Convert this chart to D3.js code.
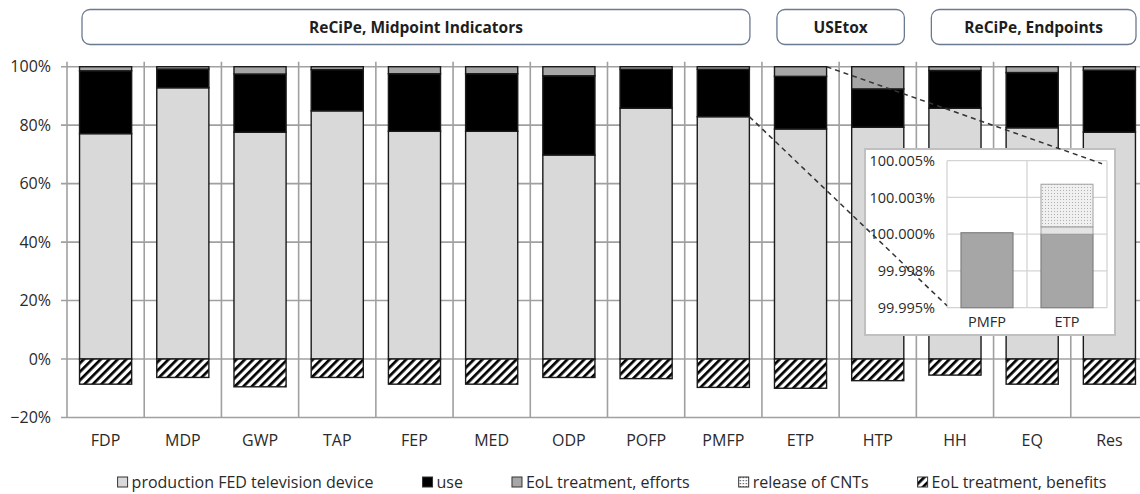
<!DOCTYPE html>
<html>
<head>
<meta charset="utf-8">
<script src="https://cdn.jsdelivr.net/npm/d3@7"></script>
<style>
  html, body { margin: 0; padding: 0; background: #fff; }
  svg { display: block; font-family: "Open Sans", "Noto Sans", sans-serif; }
</style>
</head>
<body>
<svg id="chart" width="1140" height="494"></svg>
<script>
// Impact categories and contributions (% of total impact)
const categories = ["FDP","MDP","GWP","TAP","FEP","MED","ODP","POFP","PMFP","ETP","HTP","HH","EQ","Res"];
const production = [77.1, 92.8, 77.6, 84.9, 77.9, 77.9, 69.8, 85.8, 82.9, 78.7, 79.3, 85.8, 79.1, 77.6];
const use        = [21.5,  6.4, 19.9, 14.1, 19.7, 19.7, 27.1, 13.3, 16.2, 18.0, 13.1, 12.9, 18.9, 21.2];
const efforts    = [ 1.4,  0.8,  2.5,  1.0,  2.4,  2.4,  3.1,  0.9,  0.9,  3.3,  7.6,  1.3,  2.0,  1.2];
const cntRelease = [ 0,    0,    0,    0,    0,    0,    0,    0,    0.0001, 0.0034, 0, 0, 0, 0];
const benefits   = [-8.6, -6.3, -9.5, -6.3, -8.6, -8.6, -6.3, -6.7, -9.7, -10.0, -7.4, -5.5, -8.6, -8.6];

const yTicks = [-20, 0, 20, 40, 60, 80, 100];

const groups = [
  { label: "ReCiPe, Midpoint Indicators", first: "FDP", last: "PMFP" },
  { label: "USEtox", first: "ETP", last: "HTP" },
  { label: "ReCiPe, Endpoints", first: "HH", last: "Res" }
];

const legendItems = [
  { key: "production", label: "production FED television device" },
  { key: "use", label: "use" },
  { key: "efforts", label: "EoL treatment, efforts" },
  { key: "cnt", label: "release of CNTs" },
  { key: "benefits", label: "EoL treatment, benefits" }
];

// Magnified view of the top of the PMFP and ETP bars
const insetCats = ["PMFP", "ETP"];
const insetEffortsTop = [100.0001, 100.0000];
const insetPale = [0, 0.0005];
const insetCnt = [0, 0.0029];
const insetTicks = [99.995, 99.9975, 100.0, 100.0025, 100.005];
const insetTickLabels = ["99.995%", "99.998%", "100.000%", "100.003%", "100.005%"];

const svg = d3.select("#chart");
const fills = { production: "#d9d9d9", use: "#000000", efforts: "#a6a6a6" };

// Patterns
const defs = svg.append("defs");
const hatch = defs.append("pattern")
  .attr("id", "hatch").attr("patternUnits", "userSpaceOnUse")
  .attr("width", 6).attr("height", 6)
  .attr("patternTransform", "rotate(45)");
hatch.append("rect").attr("width", 6).attr("height", 6).attr("fill", "#fff");
hatch.append("rect").attr("x", 0).attr("y", 0).attr("width", 2.7).attr("height", 6).attr("fill", "#000");

const dots = defs.append("pattern")
  .attr("id", "dots").attr("patternUnits", "userSpaceOnUse")
  .attr("width", 3).attr("height", 3);
dots.append("rect").attr("width", 3).attr("height", 3).attr("fill", "#f0f0f0");
dots.append("rect").attr("x", 1).attr("y", 1).attr("width", 1).attr("height", 1).attr("fill", "#b0b0b0");

const dotsLegend = defs.append("pattern")
  .attr("id", "dotsLegend").attr("patternUnits", "userSpaceOnUse")
  .attr("width", 3).attr("height", 3);
dotsLegend.append("rect").attr("width", 3).attr("height", 3).attr("fill", "#fff");
dotsLegend.append("rect").attr("x", 1).attr("y", 1).attr("width", 1.2).attr("height", 1.2).attr("fill", "#444");

// Scales
const plotLeft = 67, plotRight = 1148;
const xSlot = d3.scaleBand().domain(categories).range([plotLeft, plotRight]).padding(0);
const barW = xSlot.bandwidth() * 0.675;
const barX = c => xSlot(c) + (xSlot.bandwidth() - barW) / 2;
const y = d3.scaleLinear().domain([-20, 100]).range([417.5, 66.7]);

// Grid
const grid = svg.append("g");
grid.selectAll("line.h").data(yTicks).join("line")
  .attr("x1", plotLeft - 6).attr("x2", 1140)
  .attr("y1", d => y(d)).attr("y2", d => y(d))
  .attr("stroke", "#a0a0a0").attr("stroke-width", 1.6);
const bounds = categories.map(c => xSlot(c)).concat([plotRight]);
grid.selectAll("line.v").data(bounds).join("line")
  .attr("x1", d => d).attr("x2", d => d)
  .attr("y1", y(100) - 5).attr("y2", y(-20))
  .attr("stroke", "#a0a0a0").attr("stroke-width", 1.6);

// Y axis labels
svg.append("g").selectAll("text").data(yTicks).join("text")
  .attr("x", 51).attr("y", d => y(d)).attr("dy", "0.35em")
  .attr("text-anchor", "end").attr("font-size", 16).attr("fill", "#2a2a2a")
  .text(d => d3.format(".0f")(d) + "%");

// X labels
svg.append("g").selectAll("text").data(categories).join("text")
  .attr("x", c => xSlot(c) + xSlot.bandwidth() / 2).attr("y", 440).attr("dy", "0.35em")
  .attr("text-anchor", "middle").attr("font-size", 16).attr("fill", "#2a2a2a")
  .text(c => c);

// Stacked bars
const rows = categories.map((c, i) => ({ c, production: production[i], use: use[i], efforts: efforts[i], cnt: cntRelease[i], benefits: benefits[i] }));
const stack = d3.stack().keys(["production", "use", "efforts", "cnt"])(rows);
const bars = svg.append("g");
stack.forEach(layer => {
  const key = layer.key;
  if (key === "cnt") return;
  bars.append("g").selectAll("rect").data(layer).join("rect")
    .attr("x", d => barX(d.data.c)).attr("width", barW)
    .attr("y", d => y(d[1])).attr("height", d => Math.max(0, y(d[0]) - y(d[1])))
    .attr("fill", fills[key]).attr("stroke", "#1a1a1a").attr("stroke-width", 1.4);
});
bars.append("g").selectAll("rect").data(rows).join("rect")
  .attr("x", d => barX(d.c)).attr("width", barW)
  .attr("y", y(0)).attr("height", d => y(d.benefits) - y(0))
  .attr("fill", "url(#hatch)").attr("stroke", "#1a1a1a").attr("stroke-width", 1.4);

// Group headers
const hdr = svg.append("g");
groups.forEach(g => {
  const x0 = xSlot(g.first) + 15;
  const x1 = xSlot(g.last) + xSlot.bandwidth() - 12;
  hdr.append("rect").attr("x", x0).attr("y", 9.5).attr("width", x1 - x0).attr("height", 35)
    .attr("rx", 8).attr("fill", "#fff").attr("stroke", "#6a7a90").attr("stroke-width", 1.3);
  hdr.append("text").attr("x", (x0 + x1) / 2).attr("y", 27.5).attr("dy", "0.35em")
    .attr("text-anchor", "middle").attr("font-size", 15.5).attr("font-weight", "bold")
    .attr("fill", "#1e1e1e").text(g.label);
});

// Inset
const inset = { left: 865, top: 149, right: 1115, bottom: 335 };
const xi = d3.scaleBand().domain(insetCats).range([947, 1107]).padding(0);
const ibw = xi.bandwidth() * 0.65;
const ibx = c => xi(c) + (xi.bandwidth() - ibw) / 2;
const yi = d3.scaleLinear().domain([99.995, 100.005]).range([307.7, 160.7]);

const ig = svg.append("g");
ig.append("rect").attr("x", inset.left).attr("y", inset.top)
  .attr("width", inset.right - inset.left).attr("height", inset.bottom - inset.top)
  .attr("fill", "#fff").attr("stroke", "#c0c0c0").attr("stroke-width", 2);
ig.selectAll("line.h").data(insetTicks).join("line")
  .attr("x1", xi.range()[0]).attr("x2", xi.range()[1])
  .attr("y1", d => yi(d)).attr("y2", d => yi(d))
  .attr("stroke", "#d4d4d4").attr("stroke-width", 1.3);
ig.selectAll("line.v").data(insetCats.map(c => xi(c)).concat([xi.range()[1]])).join("line")
  .attr("x1", d => d).attr("x2", d => d)
  .attr("y1", yi(100.005)).attr("y2", yi(99.995))
  .attr("stroke", "#d4d4d4").attr("stroke-width", 1.3);
ig.selectAll("text.t").data(insetTicks).join("text")
  .attr("x", 935).attr("y", d => yi(d)).attr("dy", "0.35em")
  .attr("text-anchor", "end").attr("font-size", 14.5).attr("fill", "#2a2a2a")
  .text((d, i) => insetTickLabels[i]);
ig.selectAll("text.c").data(insetCats).join("text")
  .attr("x", c => xi(c) + xi.bandwidth() / 2).attr("y", 322).attr("dy", "0.35em")
  .attr("text-anchor", "middle").attr("font-size", 14.5).attr("fill", "#2a2a2a")
  .text(c => c);

insetCats.forEach((c, i) => {
  const base = yi.domain()[0];
  const effTop = insetEffortsTop[i];
  const paleTop = effTop + insetPale[i];
  const cntTop = paleTop + insetCnt[i];
  ig.append("rect").attr("x", ibx(c)).attr("width", ibw)
    .attr("y", yi(effTop)).attr("height", yi(base) - yi(effTop))
    .attr("fill", "#a6a6a6").attr("stroke", "#808080").attr("stroke-width", 1.2);
  if (insetPale[i] > 0) {
    ig.append("rect").attr("x", ibx(c)).attr("width", ibw)
      .attr("y", yi(paleTop)).attr("height", yi(effTop) - yi(paleTop))
      .attr("fill", "#e4e4e4").attr("stroke", "#a0a0a0").attr("stroke-width", 1);
  }
  if (insetCnt[i] > 0) {
    ig.append("rect").attr("x", ibx(c)).attr("width", ibw)
      .attr("y", yi(cntTop)).attr("height", yi(paleTop) - yi(cntTop))
      .attr("fill", "url(#dots)").attr("stroke", "#a0a0a0").attr("stroke-width", 1);
  }
});

// Dashed leader lines from the magnified bar tops to the inset
const lead = svg.append("g").attr("stroke", "#333").attr("stroke-width", 1.5)
  .attr("stroke-dasharray", "5,4").attr("fill", "none");
lead.append("line")
  .attr("x1", barX("PMFP") + barW).attr("y1", y(production[categories.indexOf("PMFP")]))
  .attr("x2", xi.range()[0]).attr("y2", yi(99.995) - 2);
lead.append("line")
  .attr("x1", barX("ETP") + barW).attr("y1", y(100))
  .attr("x2", xi.range()[1] - 5).attr("y2", yi(100.005) + 3);

// Legend
const leg = svg.append("g").attr("font-size", 16).attr("fill", "#2a2a2a");
const legendFill = { production: "#d9d9d9", use: "#000", efforts: "#a6a6a6", cnt: "url(#dotsLegend)", benefits: "url(#hatch)" };
const items = leg.selectAll("g").data(legendItems).join("g");
items.append("rect").attr("width", 10).attr("height", 10).attr("y", -5)
  .attr("fill", d => legendFill[d.key]).attr("stroke", "#333").attr("stroke-width", 1);
items.append("text").attr("x", 14).attr("dy", "0.35em").text(d => d.label);
const widths = [];
items.each(function () { widths.push(this.getBBox().width); });
const gap = 49;
const total = d3.sum(widths) + gap * (widths.length - 1);
let cx = 612 - total / 2;
items.attr("transform", (d, i) => { const t = `translate(${cx},482)`; cx += widths[i] + gap; return t; });
</script>
</body>
</html>
